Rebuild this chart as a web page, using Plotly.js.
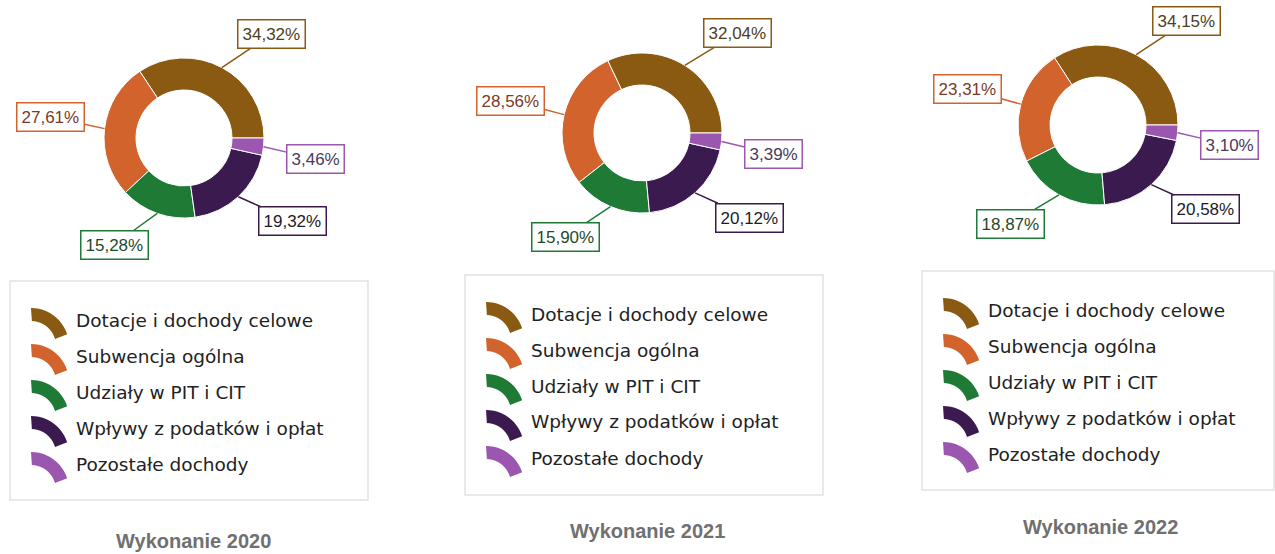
<!DOCTYPE html>
<html>
<head>
<meta charset="utf-8">
<script src="https://cdn.plot.ly/plotly-3.0.1.min.js"></script>
<style>html,body{margin:0;padding:0;background:#fff;}#chart{width:1275px;height:554px;}</style>
</head>
<body>
<div id="chart"></div>
<script>
// ---- data ----
const categories = ["Dotacje i dochody celowe", "Subwencja ogólna", "Udziały w PIT i CIT", "Wpływy z podatków i opłat", "Pozostałe dochody"];
const values2020 = [34.32, 27.61, 15.28, 19.32, 3.46];
const values2021 = [32.04, 28.56, 15.90, 20.12, 3.39];
const values2022 = [34.15, 23.31, 18.87, 20.58, 3.10];
const years = ["2020", "2021", "2022"];
const titlePrefix = "Wykonanie";

// ---- style ----
const W = 1275, H = 554;
const sliceColors = ["#8a5a12", "#d3632d", "#1f7a36", "#3b1a4f", "#9b56b0"];
const labelTextColors = ["#4d4020", "#7a3a28", "#1f4a2a", "#1e1a28", "#4a3a5c"];
const labelDist = [38, 22, 33, 33, 20];
const labelDy = [0, -9, 0, 0, 10];
const labelHalfW = 32;

const panels = [
  {values: values2020, cx: 184, cy: 138, r: 80, legL: 10, legT: 281, legW: 358, legH: 219, tx: 193, ty: 541},
  {values: values2021, cx: 642, cy: 133, r: 80, legL: 465, legT: 275, legW: 358, legH: 220, tx: 647, ty: 531},
  {values: values2022, cx: 1098, cy: 125, r: 80, legL: 922, legT: 271, legW: 352, legH: 219, tx: 1100, ty: 527}
];

const PX = x => x / W;
const PY = y => 1 - y / H;
const fmt = v => v.toFixed(2).replace('.', ',') + '%';

const traces = [];
const annotations = [];
const shapes = [];

panels.forEach((p, k) => {
  const total = p.values.reduce((a, b) => a + b, 0);
  // first slice must run counter-clockwise from 3 o'clock
  const rot = 90 - p.values[0] / total * 360;
  traces.push({
    type: 'pie',
    labels: categories,
    values: p.values,
    hole: 0.6,
    sort: false,
    direction: 'counterclockwise',
    rotation: rot,
    textinfo: 'none',
    hoverinfo: 'label+value',
    showlegend: false,
    marker: {colors: sliceColors, line: {color: '#ffffff', width: 1}},
    domain: {x: [PX(p.cx - p.r), PX(p.cx + p.r)], y: [PY(p.cy + p.r), PY(p.cy - p.r)]}
  });

  // data labels with leader lines
  let a0 = 0;
  p.values.forEach((v, i) => {
    const span = v / total * 360;
    const mid = (a0 + span / 2) * Math.PI / 180;
    a0 += span;
    const ux = Math.cos(mid), uy = -Math.sin(mid);
    const ptx = p.cx + p.r * ux, pty = p.cy + p.r * uy;
    annotations.push({
      xref: 'paper', yref: 'paper', x: PX(ptx), y: PY(pty),
      axref: 'pixel', ayref: 'pixel',
      ax: ux * labelDist[i] + (ux >= 0 ? labelHalfW : -labelHalfW),
      ay: uy * labelDist[i] + labelDy[i],
      text: fmt(v), showarrow: true, arrowhead: 0, arrowwidth: 1.5,
      arrowcolor: sliceColors[i], standoff: 0,
      font: {family: 'Liberation Sans, Arial, sans-serif', size: 17, color: labelTextColors[i]},
      bordercolor: sliceColors[i], borderwidth: 1.5, borderpad: 4, bgcolor: '#ffffff'
    });
  });

  // legend box
  shapes.push({type: 'rect', xref: 'paper', yref: 'paper',
    x0: PX(p.legL), x1: PX(p.legL + p.legW), y0: PY(p.legT + p.legH), y1: PY(p.legT),
    line: {color: '#e2e2e2', width: 1.5}, fillcolor: 'rgba(0,0,0,0)'});

  categories.forEach((c, i) => {
    const rowY = p.legT + 39 + i * 36;
    const sx = p.legL + 21;
    const top = rowY - 12;
    const Ro = 38, Ri = 25, cyc = top + Ro;
    const pts = [];
    for (let a = 90; a >= 16; a -= 6) {
      const t = a * Math.PI / 180;
      pts.push([sx + Ro * Math.cos(t), cyc - Ro * Math.sin(t)]);
    }
    for (let a = 16; a <= 90; a += 6) {
      const t = a * Math.PI / 180;
      pts.push([sx + Ri * Math.cos(t), cyc - Ri * Math.sin(t)]);
    }
    const path = pts.map((q, j) => (j ? 'L' : 'M') + PX(q[0]).toFixed(5) + ',' + PY(q[1]).toFixed(5)).join(' ') + ' Z';
    shapes.push({type: 'path', xref: 'paper', yref: 'paper', path: path,
      fillcolor: sliceColors[i], line: {width: 0}});
    annotations.push({
      xref: 'paper', yref: 'paper', x: PX(p.legL + 64), y: PY(rowY),
      xanchor: 'left', yanchor: 'middle', showarrow: false, text: c,
      font: {family: 'DejaVu Sans, Verdana, sans-serif', size: 18.5, color: '#222222'}
    });
  });

  // panel title
  annotations.push({
    xref: 'paper', yref: 'paper', x: PX(p.tx), y: PY(p.ty),
    xanchor: 'center', yanchor: 'middle', showarrow: false,
    text: '<b>' + titlePrefix + ' ' + years[k] + '</b>',
    font: {family: 'Liberation Sans, Arial, sans-serif', size: 20, color: '#707070'}
  });
});

const layout = {
  width: W, height: H,
  margin: {l: 0, r: 0, t: 0, b: 0},
  paper_bgcolor: '#ffffff', plot_bgcolor: '#ffffff',
  showlegend: false,
  annotations: annotations,
  shapes: shapes
};

Plotly.newPlot('chart', traces, layout, {displayModeBar: false, staticPlot: true});
</script>
</body>
</html>
